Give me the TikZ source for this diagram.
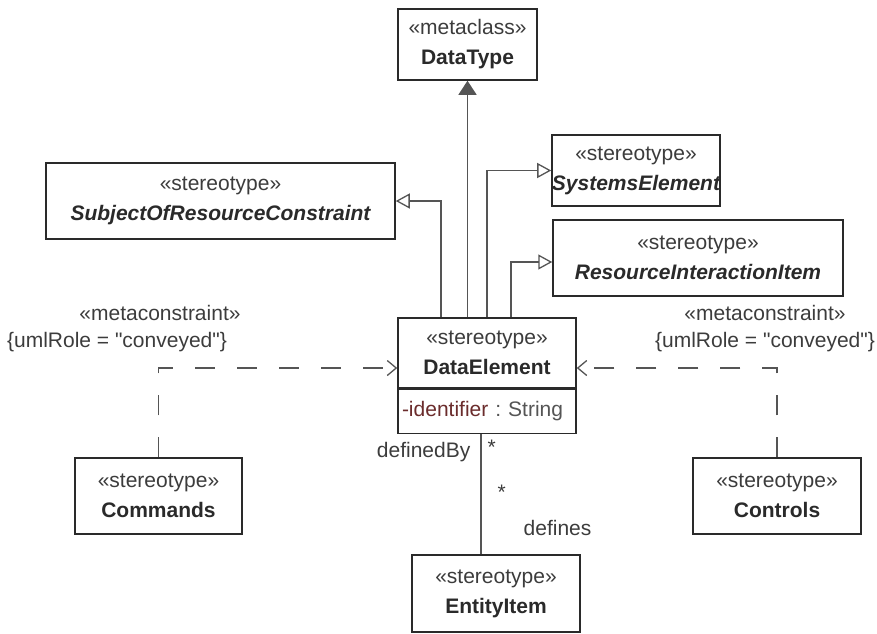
\documentclass[tikz,border=0pt]{standalone}
\usepackage{fontspec}
\setmainfont{Liberation Sans}
\usepackage{tikz}
\usetikzlibrary{arrows.meta,positioning,calc}
\definecolor{linegray}{HTML}{555555}
\definecolor{boxgray}{HTML}{2A2A2A}
\definecolor{stereogray}{HTML}{3C3C3C}
\definecolor{attrred}{HTML}{6B2C2C}
\frenchspacing

\begin{document}
\begin{tikzpicture}[x=1pt,y=-1pt,
    umlbox/.style={draw=boxgray, line width=1.5pt, fill=white, align=center,
        inner sep=0pt, font=\fontsize{21}{30}\selectfont, text=boxgray},
    gen/.style={draw=linegray, line width=1.3pt, -{Triangle[open,length=14pt,width=15pt]}},
    meta/.style={draw=linegray, line width=1.3pt, -{Triangle[length=14pt,width=18pt]}},
    dep/.style={draw=linegray, line width=1.3pt, dash pattern=on 20pt off 22pt,
        -{Straight Barb[length=9pt,width=15pt]}},
    assoc/.style={draw=linegray, line width=1.3pt},
    lbl/.style={font=\fontsize{21}{24}\selectfont, text=stereogray, inner sep=2pt}]
    \useasboundingbox (0,0) rectangle (877,633);
    % classes
    \node[umlbox, minimum width=139pt, minimum height=71pt] (datatype) at (467.5,44.5)
        {\textcolor{stereogray}{«metaclass»}\\\bfseries DataType};
    \node[umlbox, minimum width=349pt, minimum height=76pt] (subject) at (220.5,201)
        {\textcolor{stereogray}{«stereotype»}\\\bfseries\itshape SubjectOfResourceConstraint};
    \node[umlbox, minimum width=166pt, minimum height=71pt] (systems) at (636,170.5)
        {\textcolor{stereogray}{«stereotype»}\\\bfseries\itshape SystemsElement};
    \node[umlbox, minimum width=290pt, minimum height=76pt] (interaction) at (698,258)
        {\textcolor{stereogray}{«stereotype»}\\\bfseries\itshape ResourceInteractionItem};
    \node[umlbox, minimum width=178pt, minimum height=70pt] (element) at (487,353)
        {\textcolor{stereogray}{«stereotype»}\\\bfseries DataElement};
    \node[umlbox, minimum width=178pt, minimum height=44pt, below=0pt of element,
        anchor=north, align=left, text width=170pt] (attrs)
        {\textcolor{attrred}{-identifier} \textcolor{linegray}{: String}};
    \node[umlbox, minimum width=167pt, minimum height=76pt] (commands) at (158.5,496)
        {\textcolor{stereogray}{«stereotype»}\\\bfseries Commands};
    \node[umlbox, minimum width=168pt, minimum height=76pt] (controls) at (777,496)
        {\textcolor{stereogray}{«stereotype»}\\\bfseries Controls};
    \node[umlbox, minimum width=168pt, minimum height=77pt] (entity) at (496,593.5)
        {\textcolor{stereogray}{«stereotype»}\\\bfseries EntityItem};
    % generalizations
    \draw[meta] (datatype.south |- element.north) -- (datatype.south);
    \draw[gen] ([xshift=-46pt]element.north) |- (subject.east);
    \draw[gen] (element.north) |- (systems.west);
    \draw[gen] ([xshift=24pt]element.north) |- ([yshift=-4pt]interaction.west);
    % metaconstraints
    \draw[dep] (commands.north) |- ([yshift=-15pt]element.west);
    \draw[dep] (controls.north) |- ([yshift=-15pt]element.east);
    \node[lbl] (metaL) at (160,313) {«metaconstraint»};
    \node[lbl] (roleL) at (117,342) {\{umlRole = \textquotedbl conveyed\textquotedbl\}};
    \node[lbl] (metaR) at (765,313) {«metaconstraint»};
    \node[lbl] (roleR) at (765,342) {\{umlRole = \textquotedbl conveyed\textquotedbl\}};
    % association
    \draw[assoc] ([xshift=-6pt]attrs.south) -- ([xshift=-6pt]attrs.south |- entity.north)
        node[lbl, pos=0.15, left=8pt] {definedBy}
        node[lbl, pos=0.11, right=4pt] {*}
        node[lbl, pos=0.48, right=14pt] {*}
        node[lbl, pos=0.78, right=40pt] {defines};
\end{tikzpicture}
\end{document}
